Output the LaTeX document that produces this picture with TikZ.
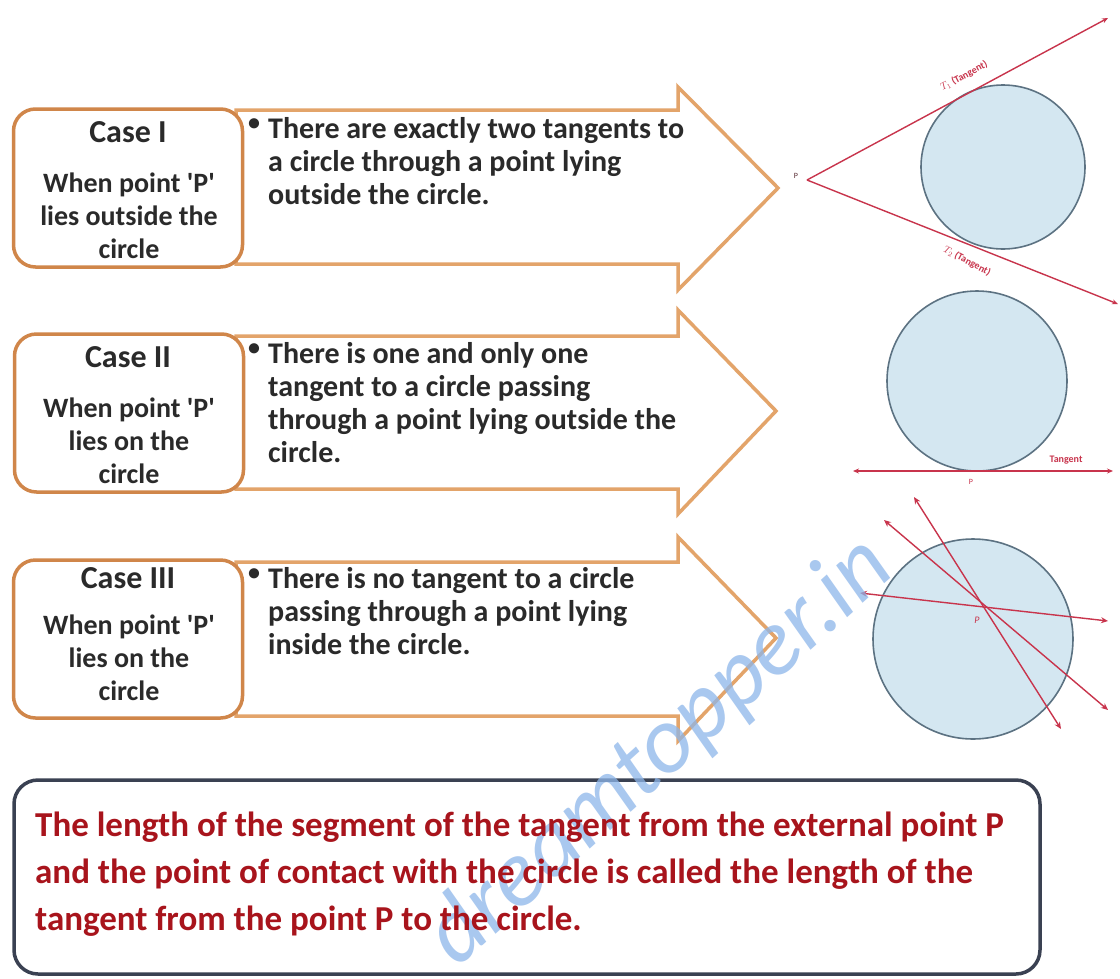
\documentclass[tikz,border=0pt]{standalone}
\usepackage{fontspec}
\setmainfont{Carlito}
\usetikzlibrary{arrows.meta}
\definecolor{orangeB}{HTML}{E3A46A}
\definecolor{orangeD}{HTML}{D0864A}
\definecolor{txt}{HTML}{2A2A2A}
\definecolor{redT}{HTML}{A8141C}
\definecolor{lineR}{HTML}{C8344C}
\definecolor{circF}{HTML}{D4E7F1}
\definecolor{circD}{HTML}{5C7282}
\definecolor{boxD}{HTML}{3A4152}
\definecolor{wm}{HTML}{8DB6EA}
\tikzset{
  casebox/.style={draw=orangeD, line width=3.5pt, rounded corners=22pt, fill=white,
    minimum width=229pt, minimum height=158pt, inner sep=0pt},
  arrowshape/.style={draw=orangeB, line width=3.5pt, fill=white, line join=miter},
  casetitle/.style={font=\bfseries\fontsize{32}{33}\selectfont, text=txt},
  casesub/.style={font=\bfseries\fontsize{28}{33}\selectfont, text=txt, align=center},
  bodytext/.style={font=\bfseries\fontsize{30}{33}\selectfont, text=txt, align=left, anchor=north west, inner sep=0pt},
  bul/.style={font=\bfseries\fontsize{24}{33}\selectfont, text=txt, anchor=north west, inner sep=0pt},
  disk/.style={circle, draw=circD, line width=1.6pt, fill=circF, inner sep=0pt},
  tline/.style={draw=lineR, line width=1.4pt},
  tiny/.style={font=\fontsize{9}{10}\selectfont, text=lineR, inner sep=0pt},
}
\newcommand{\qq}{\textquotesingle}
\begin{document}
\begin{tikzpicture}[x=1pt,y=-1pt]
\useasboundingbox (0,0) rectangle (1120,978);
\fill[white] (0,0) rectangle (1120,978);

% ---------- Case I ----------
\draw[arrowshape] (236,110) -- (678,110) -- (678,87) -- (778,188) -- (678,290) -- (678,264) -- (236,264) -- cycle;
\node[casebox] (b1) at (128,188) {};
\node[casetitle] (t1) at (128,132) {Case I};
\node[casesub] (s1) at (129,216) {When point \qq P\qq\\lies outside the\\circle};
\node[bul] (u1) at (248,119) {\textbullet};
\node[bodytext] (x1) at (268,117) {There are exactly two tangents to\\a circle through a point lying\\outside the circle.};

% ---------- Case II ----------
\draw[arrowshape] (236,336) -- (678,336) -- (678,310) -- (776,411) -- (678,514) -- (678,489) -- (236,489) -- cycle;
\node[casebox] (b2) at (129,413) {};
\node[casetitle] (t2) at (128,357) {Case II};
\node[casesub] (s2) at (129,441) {When point \qq P\qq\\lies on the\\circle};
\node[bul] (u2) at (248,344) {\textbullet};
\node[bodytext] (x2) at (268,342) {There is one and only one\\tangent to a circle passing\\through a point lying outside the\\circle.};

% ---------- Case III ----------
\draw[arrowshape] (236,562) -- (678,562) -- (678,537) -- (776,638) -- (678,741) -- (678,716) -- (236,716) -- cycle;
\node[casebox] (b3) at (128,639) {};
\node[casetitle] (t3) at (128,578) {Case III};
\node[casesub] (s3) at (129,658) {When point \qq P\qq\\lies on the\\circle};
\node[bul] (u3) at (248,569) {\textbullet};
\node[bodytext] (x3) at (268,567) {There is no tangent to a circle\\passing through a point lying\\inside the circle.};

% ---------- Diagram I ----------
\node[disk, minimum size=164pt] (d1) at (1003,167) {};
\coordinate (p1) at (807,180);
\coordinate (e1a) at (1108,18);
\coordinate (e1b) at (1118,304);
\draw[tline, -{Stealth[length=6pt,width=5pt]}] (p1) -- (e1a);
\draw[tline, -{Stealth[length=6pt,width=5pt]}] (p1) -- (e1b);
\node[tiny, font=\fontsize{8}{9}\selectfont, text=txt!70!lineR] (lp1) at (796,176) {P};
\node[tiny, font=\bfseries\fontsize{10}{10}\selectfont, rotate=28] (lt1) at (964,76) {$T_1$ (Tangent)};
\node[tiny, font=\bfseries\fontsize{10}{10}\selectfont, rotate=-28] (lt2) at (967,261) {$T_2$ (Tangent)};

% ---------- Diagram II ----------
\node[disk, minimum size=180pt] (d2) at (977,381) {};
\coordinate (p2) at (977,471);
\coordinate (e2a) at (853,471);
\coordinate (e2b) at (1113,471);
\draw[tline, {Stealth[length=6pt,width=5pt]}-{Stealth[length=6pt,width=5pt]}] (e2a) -- (e2b);
\node[tiny, font=\bfseries\fontsize{10}{10}\selectfont] (lt3) at (1066,460) {Tangent};
\node[tiny, font=\fontsize{8}{9}\selectfont] (lp2) at (971,482) {P};

% ---------- Diagram III ----------
\node[disk, minimum size=200pt] (d3) at (973,639) {};
\coordinate (p3) at (984,605);
\coordinate (a1) at (860,593);
\coordinate (a2) at (1108,621);
\coordinate (b1e) at (884,520);
\coordinate (b2e) at (1108,710);
\coordinate (c1e) at (914,497);
\coordinate (c2e) at (1061,729);
\draw[tline, {Stealth[length=7pt,width=6pt]}-{Stealth[length=7pt,width=6pt]}] (a1) -- (a2);
\draw[tline, {Stealth[length=7pt,width=6pt]}-{Stealth[length=7pt,width=6pt]}] (b1e) -- (b2e);
\draw[tline, {Stealth[length=7pt,width=6pt]}-{Stealth[length=7pt,width=6pt]}] (c1e) -- (c2e);
\node[tiny, font=\itshape\fontsize{10}{11}\selectfont] (lp3) at (977,620) {P};

% ---------- Bottom box ----------
\node[draw=boxD, line width=3.5pt, rounded corners=24pt, fill=white, minimum width=1026pt, minimum height=194pt, inner sep=0pt] (bb) at (527,877) {};

% ---------- Watermark ----------
\node[font=\itshape\fontsize{95}{95}\selectfont, text=wm, opacity=0.75, rotate=42, inner sep=0pt] (wmk) at (660,752) {dreamtopper.in};

\node[font=\bfseries\fontsize{35}{47}\selectfont, text=redT, align=left, anchor=north west, inner sep=0pt] (bt) at (35,812)
  {The length of the segment of the tangent from the external point P\\and the point of contact with the circle is called the length of the\\tangent from the point P to the circle.};
\end{tikzpicture}
\end{document}
